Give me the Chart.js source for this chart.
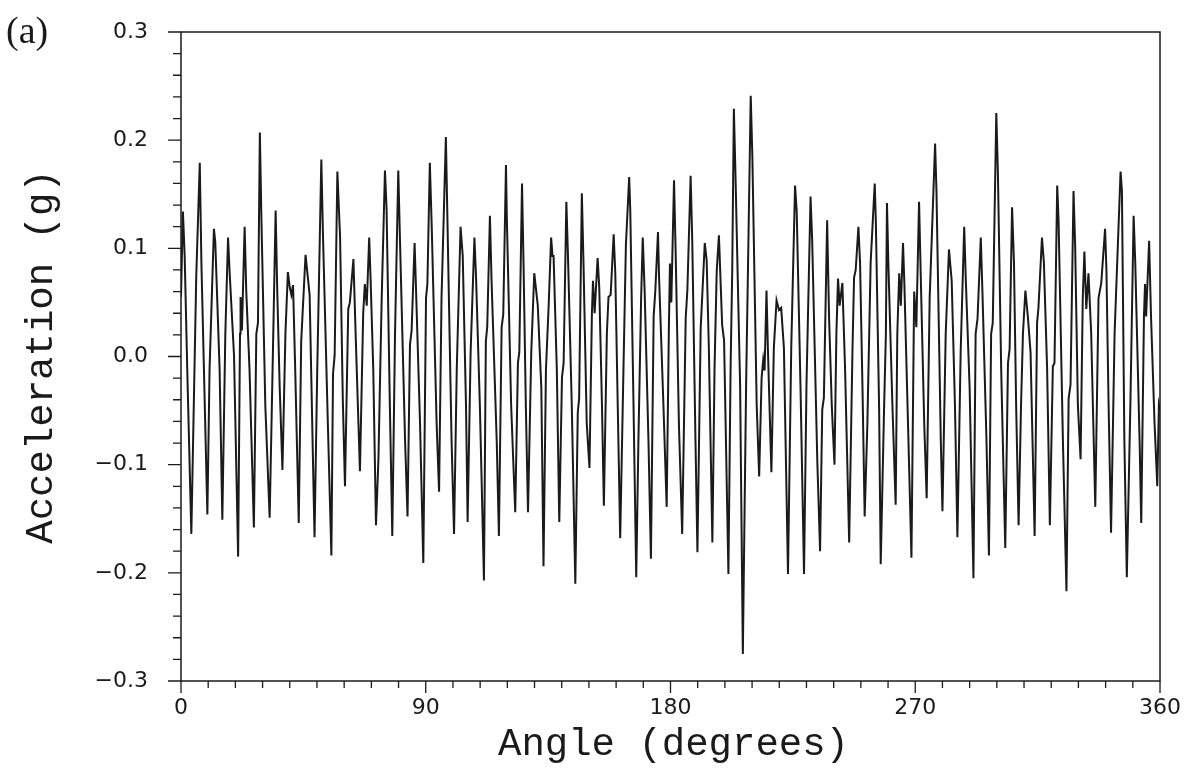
<!DOCTYPE html>
<html>
<head>
<meta charset="utf-8">
<script src="https://cdn.jsdelivr.net/npm/chart.js@4.4.1/dist/chart.umd.min.js"></script>
<style>
  html, body { margin: 0; padding: 0; background: #fff; }
  #wrap { width: 1192px; height: 769px; }
</style>
</head>
<body>
<div id="wrap"><canvas id="chart" width="1192" height="769"></canvas></div>
<script>
// Angle (degrees) of each sample
const angles = [
  0, 0.7, 1.35, 2.3, 3.8, 5.6, 6.9, 7.5, 9.7, 10.5, 12.1, 12.6, 14.2, 15.2, 16.3, 17.3, 17.9, 19.5,
  21.0, 21.7, 21.9, 22.4, 23.4, 24.0, 25.2, 26.8, 27.7, 28.3, 29.0, 29.5, 31.0, 32.6, 33.8, 34.8,
  35.4, 36.3, 37.3, 38.4, 39.3, 40.0, 40.6, 41.2, 42.0, 43.3, 44.2, 45.8, 47.3, 49.1, 50.1, 51.6,
  52.2, 54.0, 55.3, 55.9, 56.5, 57.5, 58.5, 59.5, 60.3, 61.5, 62.1, 63.4, 64.3, 65.8, 67.0, 67.6,
  68.3, 69.2, 69.7, 70.7, 71.7, 72.6, 73.8, 75.0, 75.6, 76.8, 77.7, 78.7, 79.9, 80.5, 82.4, 83.3,
  84.2, 84.8, 85.9, 86.4, 87.9, 89.1, 90.1, 90.6, 91.5, 92.2, 94.0, 94.9, 95.8, 97.4, 97.9, 99.5,
  100.4, 101.4, 102.8, 103.6, 104.8, 105.4, 106.5, 107.9, 108.5, 109.9, 111.4, 112.1, 112.6, 113.6,
  114.2, 116.1, 116.9, 117.9, 118.5, 119.5, 119.8, 121.4, 122.9, 123.9, 124.4, 125.4, 126.0, 126.8,
  127.6, 128.8, 129.9, 131.2, 132.5, 133.3, 134.2, 135.2, 136.1, 136.6, 137.0, 138.2, 139.1, 140.1,
  140.7, 141.7, 142.3, 143.7, 145.0, 145.9, 146.4, 147.4, 148.0, 149.2, 150.2, 151.1, 151.5, 152.1,
  153.2, 153.8, 154.8, 155.5, 156.6, 157.2, 158.0, 159.1, 159.7, 160.6, 161.5, 162.7, 163.6, 164.8,
  165.2, 166.4, 167.4, 168.2, 169.2, 169.8, 170.5, 171.9, 172.8, 173.8, 174.4, 175.4, 175.8, 177.4,
  178.6, 179.4, 179.8, 180.3, 181.3, 181.9, 183.1, 184.3, 185.6, 186.2, 187.4, 188.0, 189.2, 189.9,
  191.1, 192.6, 193.3, 194.1, 195.4, 196.2, 197.0, 197.8, 199.0, 199.7, 201.3, 202.1, 202.7, 203.3,
  203.9, 205.6, 206.6, 207.8, 208.7, 209.5, 210.1, 211.7, 212.6, 213.5, 214.1, 214.6, 215.3, 215.8,
  217.1, 218.0, 219.0, 219.9, 220.7, 221.7, 223.2, 224.4, 225.8, 226.4, 227.8, 229.1, 230.0, 231.5,
  232.1, 234.0, 235.0, 235.8, 236.4, 237.6, 238.3, 239.3, 240.3, 241.0, 241.6, 242.2, 243.2, 244.2,
  245.7, 246.9, 247.5, 248.1, 249.1, 249.7, 250.6, 251.4, 252.4, 253.6, 255.1, 255.5, 256.7, 257.3,
  258.5, 259.2, 259.6, 260.1, 261.6, 262.8, 263.4, 264.1, 264.7, 265.5, 266.0, 267.5, 268.6, 269.6,
  270.4, 271.4, 272.0, 273.3, 274.2, 275.3, 277.3, 277.8, 279.4, 280.0, 281.2, 282.4, 283.4, 284.6,
  285.5, 286.7, 288.0, 288.6, 290.0, 291.4, 292.2, 292.9, 294.1, 294.7, 296.2, 297.1, 297.9, 298.5,
  299.8, 300.4, 301.6, 303.1, 304.1, 304.7, 305.6, 306.3, 307.1, 308.0, 308.9, 309.6, 310.5, 311.4,
  312.4, 313.9, 314.8, 315.3, 316.6, 317.3, 318.5, 319.5, 320.6, 321.2, 322.2, 322.7, 324.3, 325.6,
  326.4, 327.1, 328.2, 328.8, 329.8, 330.8, 331.6, 332.2, 332.9, 333.7, 334.7, 336.2, 337.4, 338.4,
  339.8, 340.3, 341.1, 342.0, 343.3, 345.5, 346.0, 346.9, 347.8, 349.1, 350.3, 350.9, 352.5, 353.1,
  354.1, 354.5, 354.9, 356.0, 356.7, 358.0, 359.0, 359.6, 360
];

// Acceleration (g) at each of those angles
const accel = [
  0.055, 0.134, 0.093, -0.012, -0.164, 0.073, 0.179, 0.087, -0.146, -0.012, 0.118, 0.106, -0.012, -0.151, 0.021, 0.110, 0.077, 0.001,
  -0.185, 0.021, 0.055, 0.024, 0.120, 0.060, -0.012, -0.158, 0.021, 0.031, 0.207, 0.136, -0.045, -0.149, 0.004, 0.135,
  0.060, -0.029, -0.105, 0.021, 0.078, 0.064, 0.057, 0.066, -0.012, -0.154, 0.014, 0.094, 0.057, -0.167, -0.012, 0.182,
  0.113, -0.062, -0.184, -0.016, 0.001, 0.171, 0.110, -0.040, -0.120, 0.044, 0.050, 0.090, 0.014, -0.106, 0.040, 0.067,
  0.047, 0.110, 0.073, -0.012, -0.156, -0.095, 0.054, 0.172, 0.136, -0.045, -0.166, 0.021, 0.172, 0.110, -0.078, -0.148,
  0.011, 0.024, 0.105, 0.064, -0.062, -0.191, 0.054, 0.067, 0.179, 0.120, -0.062, -0.125, 0.054, 0.203, 0.136, -0.078,
  -0.164, -0.012, 0.120, 0.093, -0.045, -0.153, 0.004, 0.110, 0.073, -0.045, -0.207, 0.014, 0.027, 0.130,
  0.070, -0.078, -0.166, 0.027, 0.039, 0.177, 0.130, -0.045, -0.144, -0.006, 0.004, 0.160, 0.080, -0.045,
  -0.144, 0.004, 0.077, 0.047, -0.029, -0.194, -0.012, 0.047, 0.110, 0.093, 0.093, -0.012, -0.153, -0.019,
  -0.006, 0.143, 0.093, -0.045, -0.210, -0.052, -0.039, 0.151, 0.087, -0.062, -0.103, 0.040, 0.070, 0.040,
  0.091, 0.064, -0.045, -0.138, 0.021, 0.055, 0.057, 0.113, 0.077, -0.045, -0.168, -0.012, 0.103, 0.166,
  0.136, -0.045, -0.204, -0.078, 0.054, 0.110, 0.060, -0.078, -0.187, 0.037, 0.060, 0.115, 0.073, -0.045,
  -0.139, 0.026, 0.086, 0.050, 0.163, 0.096, -0.063, -0.164, 0.036, 0.061, 0.167, 0.107, -0.080, -0.181,
  0.026, 0.105, 0.089, 0.008, -0.172, -0.010, 0.079, 0.112, 0.029, 0.015, -0.201, -0.010, 0.079, 0.229,
  0.167, -0.027, -0.275, -0.027, 0.114, 0.241, 0.185, -0.045, -0.111, -0.020, -0.003, -0.013, 0.061, 0.008,
  -0.107, 0.008, 0.052, 0.043, 0.045, 0.008, -0.201, 0.008, 0.158, 0.135, -0.027, -0.201, -0.027, 0.148,
  0.107, -0.098, -0.180, -0.049, -0.038, 0.126, 0.037, -0.045, -0.100, 0.021, 0.072, 0.047, 0.068, -0.012,
  -0.172, 0.004, 0.073, 0.080, 0.120, 0.087, -0.029, -0.148, -0.062, 0.087, 0.160, 0.126, -0.045, -0.192,
  -0.052, 0.021, 0.142, 0.087, -0.045, -0.137, 0.021, 0.077, 0.047, 0.105, 0.067, -0.078, -0.186, 0.060,
  0.027, 0.143, 0.077, -0.062, -0.131, 0.054, 0.197, 0.153, -0.078, -0.143, 0.021, 0.099, 0.070, -0.045,
  -0.167, 0.004, 0.120, 0.070, -0.029, -0.205, 0.021, 0.035, 0.110, 0.060, -0.078, -0.184, 0.021, 0.031,
  0.225, 0.169, -0.012, -0.177, -0.006, 0.007, 0.138, 0.087, -0.045, -0.156, -0.045, 0.021, 0.061, 0.037,
  0.004, -0.166, 0.031, 0.045, 0.110, 0.087, -0.012, -0.156, -0.009, -0.006, 0.158, 0.126, -0.078, -0.217,
  -0.039, -0.026, 0.153, 0.103, -0.045, -0.095, 0.054, 0.097, 0.044, 0.077, 0.021, -0.139, 0.054, 0.068,
  0.118, 0.080, -0.045, -0.163, 0.021, 0.171, 0.153, -0.078, -0.204, -0.045, 0.130, 0.087, -0.078, -0.154,
  0.037, 0.067, 0.037, 0.107, 0.037, -0.062, -0.120, -0.045, -0.050
];

const xTicks = [0, 90, 180, 270, 360];
const yTicks = [-0.3, -0.2, -0.1, 0.0, 0.1, 0.2, 0.3];
const xTitle = 'Angle (degrees)';
const yTitle = 'Acceleration (g)';
const panelLabel = '(a)';

const ink = '#1a1a1a';

// box, minor/major tick marks, axis titles and panel letter
const framePlugin = {
  id: 'frame',
  afterDraw(chart) {
    const { ctx, chartArea: a, scales: { x, y } } = chart;
    ctx.save();
    ctx.strokeStyle = ink;
    ctx.lineWidth = 1.5;
    ctx.strokeRect(a.left, a.top, a.right - a.left, a.bottom - a.top);

    ctx.lineWidth = 1.3;
    ctx.beginPath();
    for (let d = 0; d <= 360; d += 10) {
      const px = x.getPixelForValue(d);
      const len = d % 90 === 0 ? 12 : 7;
      ctx.moveTo(px, a.bottom);
      ctx.lineTo(px, a.bottom + len);
    }
    for (let i = -15; i <= 15; i++) {
      const py = y.getPixelForValue(i * 0.02);
      const len = i % 5 === 0 ? 13 : 8;
      ctx.moveTo(a.left, py);
      ctx.lineTo(a.left - len, py);
    }
    ctx.stroke();

    ctx.fillStyle = ink;
    ctx.font = '39px "Liberation Mono"';
    ctx.textAlign = 'center';
    ctx.textBaseline = 'middle';
    ctx.fillText(xTitle, (a.left + a.right) / 2 + 3, 745);
    ctx.save();
    ctx.translate(42, (a.top + a.bottom) / 2);
    ctx.rotate(-Math.PI / 2);
    ctx.fillText(yTitle, 0, 0);
    ctx.restore();

    ctx.font = '38px "Liberation Serif"';
    ctx.textAlign = 'left';
    ctx.textBaseline = 'alphabetic';
    ctx.fillText(panelLabel, 6, 43);
    ctx.restore();
  }
};

const tickFont = { family: '"DejaVu Sans"', size: 22 };

new Chart(document.getElementById('chart'), {
  type: 'scatter',
  data: {
    datasets: [{
      data: angles.map((a, i) => ({ x: a, y: accel[i] })),
      showLine: true,
      borderColor: ink,
      borderWidth: 2,
      pointRadius: 0,
      tension: 0
    }]
  },
  options: {
    responsive: false,
    devicePixelRatio: 1,
    animation: false,
    layout: { padding: { left: 0, top: 32, right: 32, bottom: 0 } },
    plugins: { legend: { display: false }, tooltip: { enabled: false } },
    scales: {
      x: {
        type: 'linear',
        min: 0,
        max: 360,
        afterBuildTicks: s => { s.ticks = xTicks.map(v => ({ value: v })); },
        afterFit: s => { s.height = 88; s.paddingLeft = 0; s.paddingRight = 0; },
        grid: { display: false, drawTicks: false },
        border: { display: false },
        ticks: { font: tickFont, color: ink, padding: 14, maxRotation: 0, autoSkip: false }
      },
      y: {
        min: -0.3,
        max: 0.3,
        afterBuildTicks: s => { s.ticks = yTicks.map(v => ({ value: v })); },
        afterFit: s => { s.width = 181; s.paddingTop = 0; s.paddingBottom = 0; },
        grid: { display: false, drawTicks: false },
        border: { display: false },
        ticks: {
          font: tickFont,
          color: ink,
          padding: 33,
          callback: v => (Math.abs(v) < 1e-9 ? 0 : v).toFixed(1).replace('-', '\u2212')
        }
      }
    }
  },
  plugins: [framePlugin]
});
</script>
</body>
</html>
